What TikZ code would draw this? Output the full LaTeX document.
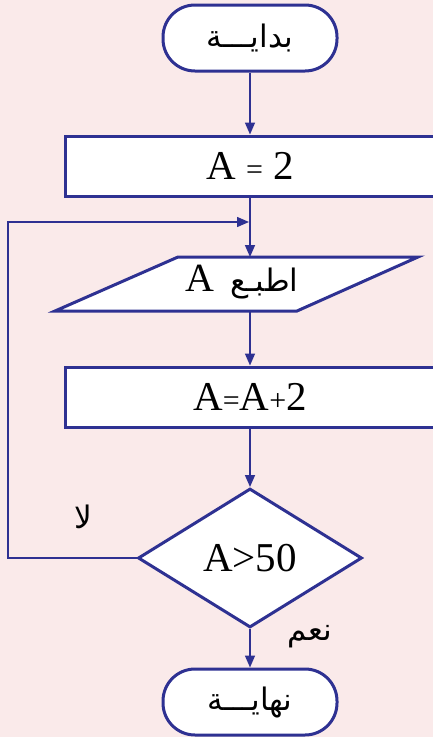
\documentclass[tikz,border=0pt]{standalone}
\usepackage{fontspec}
\setmainfont{Liberation Serif}
\newfontfamily\arabicfont[Script=Arabic]{DejaVu Sans}
\TeXXeTstate=1
\usetikzlibrary{shapes.geometric,arrows.meta}
\definecolor{flowblue}{RGB}{46,49,146}
\definecolor{pagepink}{RGB}{250,234,234}
\newcommand\smallop[1]{{\fontsize{30}{32}\selectfont#1}}
\begin{document}
\begin{tikzpicture}[
  x=1pt, y=-1pt,
  terminal/.style={
    draw=flowblue,
    fill=white,
    line width=3pt,
    rounded corners=32pt,
    minimum width=174pt,
    minimum height=66pt,
    inner sep=0pt
  },
  process/.style={
    draw=flowblue,
    fill=white,
    line width=3pt,
    minimum width=370pt,
    minimum height=60pt,
    inner sep=0pt
  },
  decision/.style={
    diamond,
    draw=flowblue,
    fill=white,
    line width=3pt,
    minimum width=224pt,
    minimum height=139pt,
    inner sep=0pt
  },
  io/.style={draw=flowblue, fill=white, line width=3pt},
  arrow/.style={flowblue, line width=1.6pt, -{Triangle[length=12pt,width=10pt]}},
  latin/.style={font=\fontsize{41}{44}\selectfont},
  arabic/.style={font=\arabicfont\fontsize{31}{34}\selectfont}
]
\useasboundingbox (0,0) rectangle (433,737);
\clip (0,0) rectangle (433,737);
\fill[pagepink] (0,0) rectangle (433,737);

\node[terminal, arabic] (start) at (250,38) {\beginR بدايـــة\endR};
\node[process, latin] (init) at (250,166) {A \smallop{=} 2};
\coordinate (join) at (250,222);
\coordinate (loopcorner) at (8,222);
\draw[io] (178,257) -- (418,257) -- (297,311) -- (55,311) -- cycle;
\coordinate (printtop) at (250,257);
\coordinate (printbot) at (250,311);
\node[arabic] (print) at (242,282) {\beginR اطبـع\hspace{16pt}{\rmfamily\fontsize{40}{44}\selectfont A}\endR};
\node[process, latin] (step) at (250,397) {A\smallop{=}A\smallop{+}2};
\node[decision, latin] (test) at (250,558) {A>50};
\node[terminal, arabic] (stop) at (250,702) {\beginR نهايـــة\endR};
\node[arabic] (no) at (83,517) {\beginR لا\endR};
\node[arabic] (yes) at (310,637) {\beginR نعم\endR};

\draw[arrow] (start) -- (init);
\draw[arrow] (init) -- (printtop);
\draw[arrow] (printbot) -- (step);
\draw[arrow] (step) -- (test);
\draw[arrow] (test) -- (stop);
\draw[arrow, line width=1.4pt, shorten >=1pt] (test.west) -| (loopcorner) -- (join);
\end{tikzpicture}
\end{document}
